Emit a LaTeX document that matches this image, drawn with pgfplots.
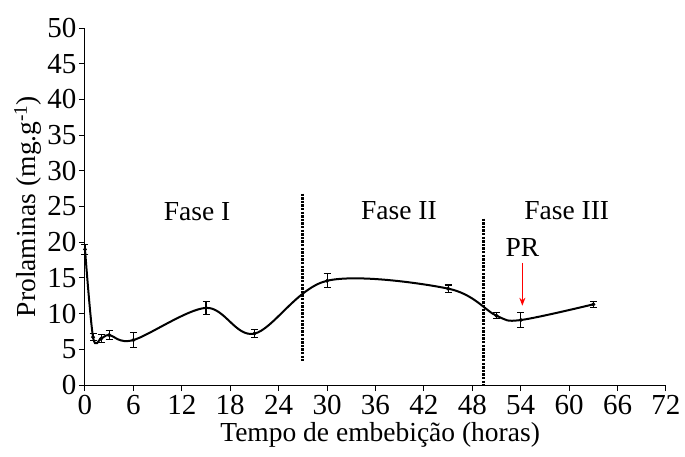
\documentclass[border=0pt]{standalone}
\usepackage{pgfplots}
\pgfplotsset{compat=1.18}
\usepackage{fontspec}
\setmainfont{Liberation Serif}
\usetikzlibrary{calc,arrows.meta}

% prolaminas ao longo da embebicao
\pgfplotstableread{
t    p     e
0    19.0  0.7
1    6.7   0.5
2    6.5   0.6
3    7.0   0.6
6    6.3   1.0
15   10.8  0.9
21   7.2   0.6
30   14.6  1.0
45   13.5  0.5
51   9.7   0.4
54   9.1   1.0
63   11.3  0.4
}\prol

\begin{document}
\begin{tikzpicture}
\begin{axis}[
  scale only axis, width=581pt, height=357pt,
  xmin=0, xmax=72, ymin=0, ymax=50,
  xtick distance=6, ytick distance=5,
  axis lines=left, axis line style={-, line width=1pt},
  tick style={black, line width=1pt},
  tick align=outside, major tick length=6pt,
  tick label style={font=\fontsize{29}{29}\selectfont},
  xticklabel style={inner sep=4pt},
  yticklabel style={inner sep=2.5pt},
  /pgf/number format/assume math mode=true,
  clip=false,
]
\coordinate (ll) at (rel axis cs:0,0);
\addplot[black, line width=2pt, smooth, tension=0.55] table[x=t, y=p] {\prol};
\addplot[black, only marks, mark=*, mark size=1.8pt,
  error bars/.cd, y dir=both, y explicit,
  error bar style={line width=1.1pt}, error mark options={rotate=90, mark size=3.5pt, line width=1.1pt}]
  table[x=t, y=p, y error=e] {\prol};
\addplot[black, line width=3pt, dash pattern=on 2.4pt off 1.2pt] coordinates {(27,26.8) (27,3.4)};
\addplot[black, line width=3pt, dash pattern=on 2.4pt off 1.2pt] coordinates {(49.4,23.3) (49.4,0)};
\node[font=\fontsize{27.5}{27.5}\selectfont] at (axis cs:13.9,24.3) {Fase I};
\node[font=\fontsize{27.5}{27.5}\selectfont] at (axis cs:38.9,24.4) {Fase II};
\node[font=\fontsize{27.5}{27.5}\selectfont] at (axis cs:59.7,24.4) {Fase III};
\node[font=\fontsize{27.5}{27.5}\selectfont] at (axis cs:54.2,19.3) {PR};
\draw[red, line width=1.2pt, -{Stealth[length=8pt,width=6pt]}] (axis cs:54.2,17.1) -- (axis cs:54.2,11.1);
\node[font=\fontsize{27.5}{27.5}\selectfont, anchor=base] at ($(rel axis cs:0.508,0)+(0,-56pt)$) {Tempo de embebição (horas)};
\node[font=\fontsize{27.5}{27.5}\selectfont, anchor=base, rotate=90] at ($(rel axis cs:0,0.5)+(-49pt,0)$) {Prolaminas (mg.g\textsuperscript{-1})};
\end{axis}
\pgfresetboundingbox
\path ($(ll)+(-85pt,-71pt)$) rectangle ($(ll)+(600pt,385pt)$);
\end{tikzpicture}
\end{document}
